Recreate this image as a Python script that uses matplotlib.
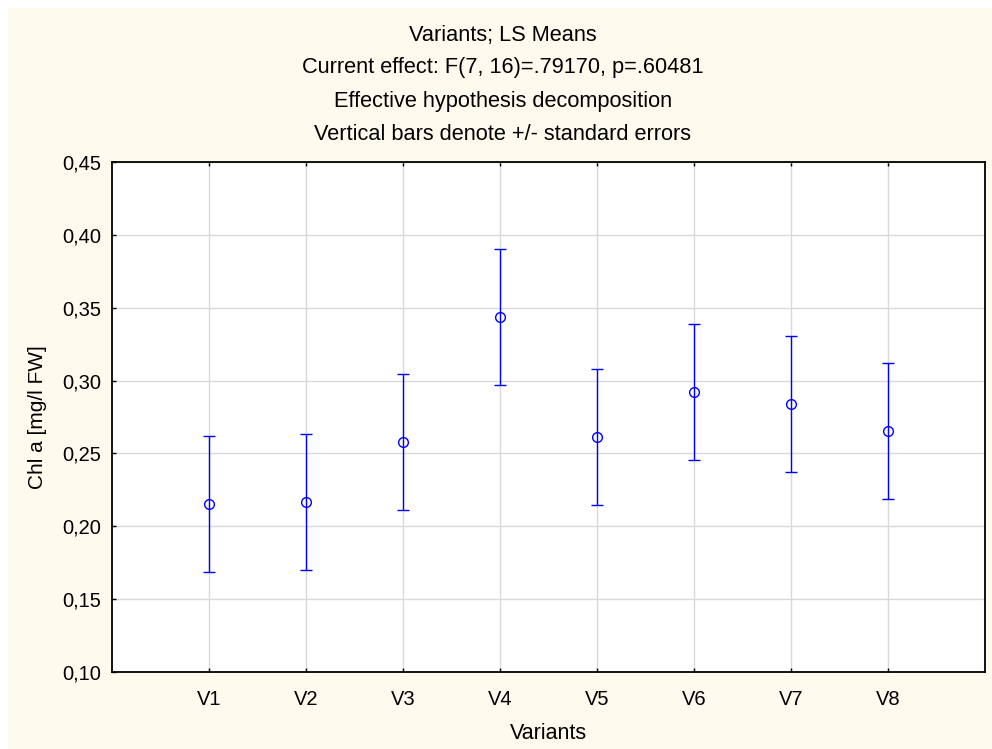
"""LS means of chlorophyll a per variant with +/- standard error bars."""

import matplotlib.pyplot as plt
from matplotlib.patches import Rectangle
from matplotlib.ticker import FuncFormatter, MultipleLocator

VARIANTS = ["V1", "V2", "V3", "V4", "V5", "V6", "V7", "V8"]
LS_MEANS = [0.2152, 0.2166, 0.2580, 0.3435, 0.2615, 0.2920, 0.2842, 0.2655]
STD_ERR = [0.0465, 0.0466, 0.0466, 0.0465, 0.0467, 0.0467, 0.0467, 0.0467]

TITLE_LINES = [
    "Variants; LS Means",
    "Current effect: F(7, 16)=.79170, p=.60481",
    "Effective hypothesis decomposition",
    "Vertical bars denote +/- standard errors",
]

W, H = 992, 749
DPI = 100
CREAM = "#fffaee"
BLUE = "#0000ff"


def px(x, y):
    return x / W, 1 - y / H


plt.rcParams.update(
    {
        "font.family": ["Liberation Sans", "DejaVu Sans"],
        "font.size": 14,
    }
)

fig = plt.figure(figsize=(W / DPI, H / DPI), dpi=DPI, facecolor="white")
fig.patches.append(
    Rectangle(px(8, H), 1 - 8 / W, 1 - 8 / H, transform=fig.transFigure,
              facecolor=CREAM, edgecolor="none", zorder=-10)
)

left, top = px(112, 162)
right, bottom = px(985, 672)
ax = fig.add_axes([left, bottom, right - left, top - bottom])
ax.set_facecolor("white")

xs = list(range(1, len(VARIANTS) + 1))
ax.errorbar(
    xs, LS_MEANS, yerr=STD_ERR,
    fmt="o", color=BLUE, ecolor=BLUE, elinewidth=1.0,
    capsize=4, capthick=1.0,
    markersize=7, markerfacecolor="none", markeredgecolor=BLUE,
    markeredgewidth=1.0, zorder=3,
)

ax.set_xlim(0, len(VARIANTS) + 1)
ax.set_ylim(0.10, 0.45)
ax.set_xticks(xs)
ax.set_xticklabels(VARIANTS)
ax.yaxis.set_major_locator(MultipleLocator(0.05))
ax.yaxis.set_major_formatter(FuncFormatter(lambda v, _: f"{v:.2f}".replace(".", ",")))

ax.grid(True, color="#d9d9d9", linewidth=1.0)
ax.set_axisbelow(True)
ax.tick_params(axis="both", direction="in", length=3, width=1.0,
               top=True, labelsize=14.5)
ax.tick_params(axis="x", pad=13)
ax.tick_params(axis="y", pad=8)
for spine in ax.spines.values():
    spine.set_linewidth(1.3)
    spine.set_color("black")

ax.set_xlabel("Variants", fontsize=15.5, labelpad=10)
ax.set_ylabel("Chl a [mg/l FW]", fontsize=15, labelpad=11)

for i, line in enumerate(TITLE_LINES):
    fx, fy = px(503, 35 + 33 * i)
    fig.text(fx, fy, line, ha="center", va="center", fontsize=15.7)

fig.savefig("out.png", dpi=DPI, facecolor=fig.get_facecolor())
